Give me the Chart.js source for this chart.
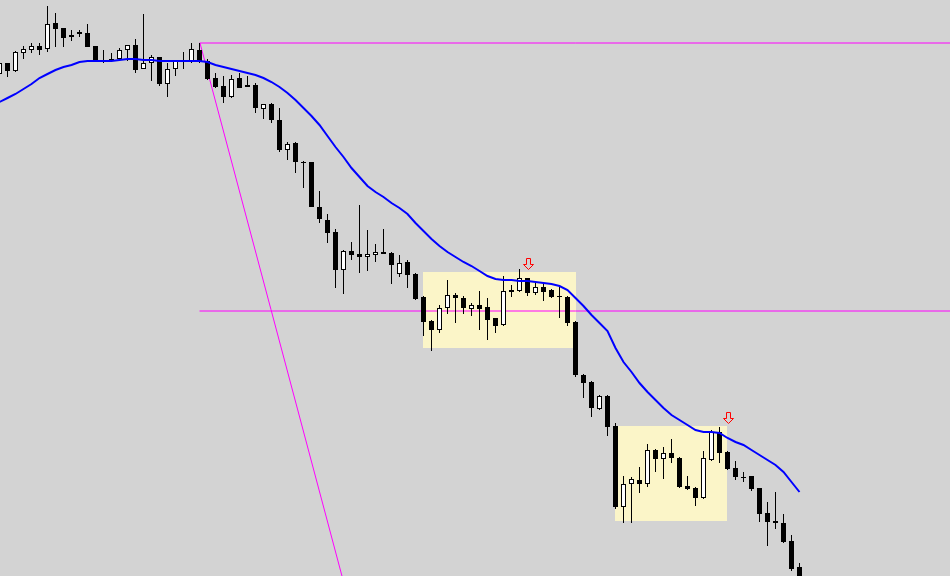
<!DOCTYPE html>
<html>
<head>
<meta charset="utf-8">
<title>Candles</title>
<script src="https://cdn.jsdelivr.net/npm/chart.js@4.4.1/dist/chart.umd.min.js"></script>
<style>
  html, body { margin: 0; padding: 0; background: #d3d3d3; }
  #wrap { width: 950px; height: 576px; }
</style>
</head>
<body>
<div id="wrap"><canvas id="chart"></canvas></div>
<script>
// bar prices (points), one entry per bar, oldest first
const opens = [526,537,529,547,550,554,551,577,572,563,
  568,567,554,540,541,541,550,555,531,537,
  543,516,531,540,538,550,539,522,514,503,
  522,515,515,491,496,480,450,457,438,438,
  393,380,368,330,349,346,343,345,348,347,
  326,338,326,303,279,270,292,305,302,291,
  295,293,282,275,310,309,322,307,313,310,
  304,303,278,225,218,191,204,174,93,116,
  120,116,150,141,147,142,114,112,102,140,
  168,148,132,123,124,112,87,79,77,59,
  33];
const closes = [537,529,548,551,554,550,576,571,562,565,
  566,553,538,539,539,550,555,530,537,543,
  516,531,539,538,551,538,521,513,503,521,
  512,513,492,496,480,450,456,438,437,393,
  381,367,330,349,345,343,346,348,346,335,
  337,325,301,278,270,292,305,302,292,295,
  291,280,274,309,308,322,307,313,308,303,
  303,277,225,217,192,204,173,93,116,121,
  116,150,141,147,142,113,111,102,142,168,
  147,131,123,122,111,86,78,77,58,31,
  20];
const highs = [540,537,549,554,557,557,594,587,572,570,
  570,576,554,550,547,552,555,561,586,545,
  543,537,539,548,557,557,541,527,524,525,
  527,524,517,496,497,492,458,458,439,438,
  409,386,371,350,358,395,370,356,371,348,
  345,340,327,304,280,295,320,307,304,297,
  309,302,282,324,315,331,322,318,317,311,
  313,304,279,226,219,205,205,177,124,123,
  133,156,151,153,161,143,124,113,149,170,
  173,149,139,128,124,112,98,108,86,65,
  37];
const lows = [524,523,528,541,547,545,548,553,553,559,
  563,553,538,537,538,539,539,527,531,519,
  514,503,524,531,537,537,520,512,497,502,
  512,513,487,481,477,448,440,427,412,393,
  377,357,312,306,340,327,329,338,346,316,
  323,312,300,264,249,267,286,277,286,284,
  270,260,267,274,303,308,304,305,299,302,
  282,274,223,202,183,190,164,91,77,77,
  107,113,128,121,137,112,110,94,101,139,
  137,130,120,118,109,78,54,71,57,29,
  18];
// moving average
const maValues = [498,502,506,511,516,522,526,530,533,535,
  538,539,539,539,539,540,541,541,540,540,
  539,539,539,539,539,539,538,535,533,531,
  529,527,525,522,518,513,507,500,492,484,
  475,464,453,443,432,423,414,408,403,397,
  392,386,377,369,361,354,348,343,338,334,
  329,324,321,320,320,319,319,318,317,316,
  314,310,302,294,285,277,269,252,238,228,
  217,208,200,192,185,180,175,170,168,168,
  167,162,158,155,150,145,140,135,128,118,
  108];

// drawn objects
const boxLeft = [52.94, 76.94];
const boxRight = [72.06, 90.94];
const boxTop = [328, 174];
const boxBottom = [252, 79];
const levelPrices = [557, 289];
const levelStart = 25;
const trendX = [25.06, 42.81];
const trendY = [557, 24];
const arrowBars = [66, 91];
const arrowTops = [342, 188];

const bodies = opens.map((o, i) => ({ x: i, y: [o, closes[i]] }));
const wicks = lows.map((l, i) => ({ x: i, y: [l, highs[i]] }));
const ma = maValues.map((v, i) => ({ x: i, y: v }));

const objectsPlugin = {
  id: 'objects',
  beforeDatasetsDraw(chart) {
    const { ctx, scales: { x, y } } = chart;
    ctx.save();
    ctx.fillStyle = '#fbf5c8';
    for (let i = 0; i < boxLeft.length; i++) {
      const l = x.getPixelForValue(boxLeft[i]);
      const r = x.getPixelForValue(boxRight[i]);
      const t = y.getPixelForValue(boxTop[i]);
      const b = y.getPixelForValue(boxBottom[i]);
      ctx.fillRect(l, t, r - l, b - t);
    }
    ctx.restore();
  },
  afterDatasetsDraw(chart) {
    const { ctx, scales: { x, y } } = chart;
    ctx.save();
    ctx.strokeStyle = '#ff0000';
    ctx.lineWidth = 1;
    arrowBars.forEach((bar, i) => {
      const cx = Math.round(x.getPixelForValue(bar)) + 0.5;
      const ty = Math.round(y.getPixelForValue(arrowTops[i])) + 0.5;
      ctx.beginPath();
      ctx.moveTo(cx - 2, ty);
      ctx.lineTo(cx + 2, ty);
      ctx.lineTo(cx + 2, ty + 6);
      ctx.lineTo(cx + 5, ty + 6);
      ctx.lineTo(cx, ty + 11);
      ctx.lineTo(cx - 5, ty + 6);
      ctx.lineTo(cx - 2, ty + 6);
      ctx.closePath();
      ctx.stroke();
    });
    ctx.restore();
  }
};

const levelData = levelPrices.map(p => [{ x: levelStart, y: p }, { x: 130, y: p }]);

new Chart(document.getElementById('chart'), {
  type: 'bar',
  data: {
    datasets: [
      {
        type: 'line',
        data: ma,
        borderColor: '#0000ff',
        borderWidth: 2,
        pointRadius: 0,
        tension: 0,
        order: 0
      },
      {
        data: bodies,
        grouped: false,
        barThickness: 5,
        minBarLength: 1,
        borderWidth: 1,
        borderSkipped: false,
        inflateAmount: 0,
        borderColor: '#000000',
        backgroundColor: ctx => (closes[ctx.dataIndex] > opens[ctx.dataIndex] ? '#ffffff' : '#000000'),
        order: 1
      },
      {
        data: wicks,
        grouped: false,
        barThickness: 1,
        borderWidth: 0,
        inflateAmount: 0,
        backgroundColor: '#000000',
        order: 2
      },
      {
        type: 'line',
        data: levelData[0],
        borderColor: '#ff00ff',
        borderWidth: 1,
        pointRadius: 0,
        order: 3
      },
      {
        type: 'line',
        data: levelData[1],
        borderColor: '#ff00ff',
        borderWidth: 1,
        pointRadius: 0,
        order: 3
      },
      {
        type: 'line',
        data: trendX.map((v, i) => ({ x: v, y: trendY[i] })),
        borderColor: '#ff00ff',
        borderWidth: 1,
        pointRadius: 0,
        order: 3
      }
    ]
  },
  options: {
    responsive: true,
    maintainAspectRatio: false,
    animation: false,
    layout: { padding: 0 },
    plugins: { legend: { display: false }, tooltip: { enabled: false } },
    scales: {
      x: { type: 'linear', min: 0.0625, max: 118.8125, offset: false, display: false },
      y: { type: 'linear', min: 24, max: 600, display: false }
    }
  },
  plugins: [objectsPlugin]
});
</script>
</body>
</html>
